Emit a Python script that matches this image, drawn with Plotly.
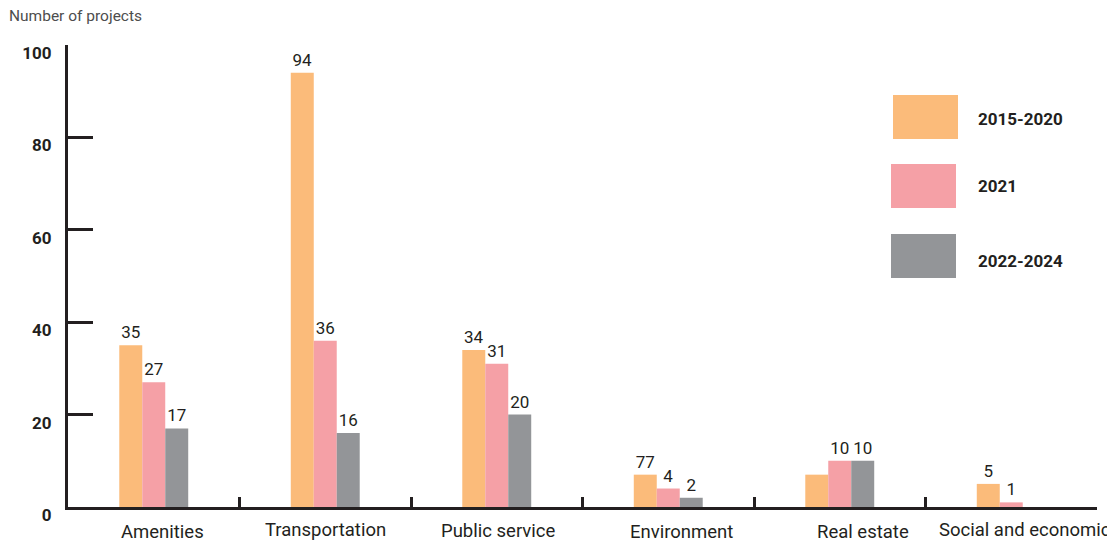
import plotly.graph_objects as go

categories = ["Amenities", "Transportation", "Public service", "Environment", "Real estate", "Social and economic"]
series_names = ["2015-2020", "2021", "2022-2024"]
values_2015_2020 = [35, 94, 34, 7, 7, 5]
values_2021 = [27, 36, 31, 4, 10, 1]
values_2022_2024 = [17, 16, 20, 2, 10, 0]
labels_2015_2020 = ["35", "94", "34", "77", "", "5"]
labels_2021 = ["27", "36", "31", "4", "10", "1"]
labels_2022_2024 = ["17", "16", "20", "2", "10", ""]
colors = ["#FBBB7A", "#F5A0A6", "#939598"]
y_ticks = [0, 20, 40, 60, 80, 100]

DARK = "#231f20"
FONT = "Roboto"

# page is drawn with an 8px body margin -> compensate in the figure geometry
OFF = 8
PL, PR, PT, PB = 68, 1097, 45, 507          # desired plot box in window pixels
W, H = 1115 - OFF, 542 - OFF
plot_w, plot_h = PR - PL, PB - PT

fig = go.Figure()
for name, vals, labs, col in zip(series_names,
                                 [values_2015_2020, values_2021, values_2022_2024],
                                 [labels_2015_2020, labels_2021, labels_2022_2024],
                                 colors):
    fig.add_trace(go.Bar(
        x=categories, y=vals, name=name, marker=dict(color=col, line=dict(width=0)),
        text=labs, textposition="outside", constraintext="none", cliponaxis=False,
        textfont=dict(family=FONT, size=17, color=DARK),
    ))

fig.update_layout(
    width=W, height=H,
    margin=dict(l=PL - OFF, r=W - (PR - OFF), t=PT - OFF, b=H - (PB - OFF), autoexpand=False),
    plot_bgcolor="white", paper_bgcolor="white",
    barmode="group", bargap=0.598, bargroupgap=0,
    showlegend=False,
    font=dict(family=FONT, color=DARK),
)

fig.update_xaxes(
    type="category", range=[-0.5, len(categories) - 0.5], automargin=False,
    showline=True, linewidth=3, linecolor=DARK,
    ticks="inside", tickson="boundaries", ticklen=10, tickwidth=3, tickcolor=DARK,
    showticklabels=False,
    showgrid=False, zeroline=False,
)
fig.update_yaxes(
    range=[0, 100], tickvals=y_ticks, automargin=False,
    showline=True, linewidth=3, linecolor=DARK,
    ticks="inside", ticklen=25, tickwidth=3, tickcolor=DARK,
    tickfont=dict(family=FONT, size=17, color=DARK, weight="bold"),
    ticklabelshift=8, ticklabelstandoff=10,
    showgrid=False, zeroline=False,
)

# category labels (slightly offset as in the reference)
label_dx = [9, 0, 1, 13, 23, 14]
label_y = [532, 530, 531, 532, 532, 530]
for cat, dx, ly in zip(categories, label_dx, label_y):
    fig.add_annotation(xref="x", yref="paper", x=cat, y=(PB - ly) / plot_h, xshift=dx,
                       text=cat, showarrow=False, xanchor="center", yanchor="middle",
                       font=dict(family=FONT, size=18.5, color=DARK))

# title
fig.add_annotation(xref="paper", yref="paper", x=(7 - PL) / plot_w, y=(PB - 16) / plot_h,
                   text="Number of projects", showarrow=False, xanchor="left", yanchor="middle",
                   font=dict(family=FONT, size=15.5, color="#4d4d4d"))

# custom legend (large swatches)
swatches = [(893, 958, 95, 139, 119), (891, 956, 164, 208, 186), (891, 956, 234, 278, 261)]
for (x0, x1, y0, y1, ly), name, col in zip(swatches, series_names, colors):
    fig.add_shape(type="rect", xref="paper", yref="paper",
                  x0=(x0 - PL) / plot_w, x1=(x1 - PL) / plot_w,
                  y0=(PB - y1) / plot_h, y1=(PB - y0) / plot_h,
                  fillcolor=col, line=dict(width=0), layer="above")
    fig.add_annotation(xref="paper", yref="paper", x=(976 - PL) / plot_w, y=(PB - ly) / plot_h,
                       text=f"<b>{name}</b>", showarrow=False, xanchor="left", yanchor="middle",
                       font=dict(family=FONT, size=17, color=DARK))

fig.write_html("out.html")
